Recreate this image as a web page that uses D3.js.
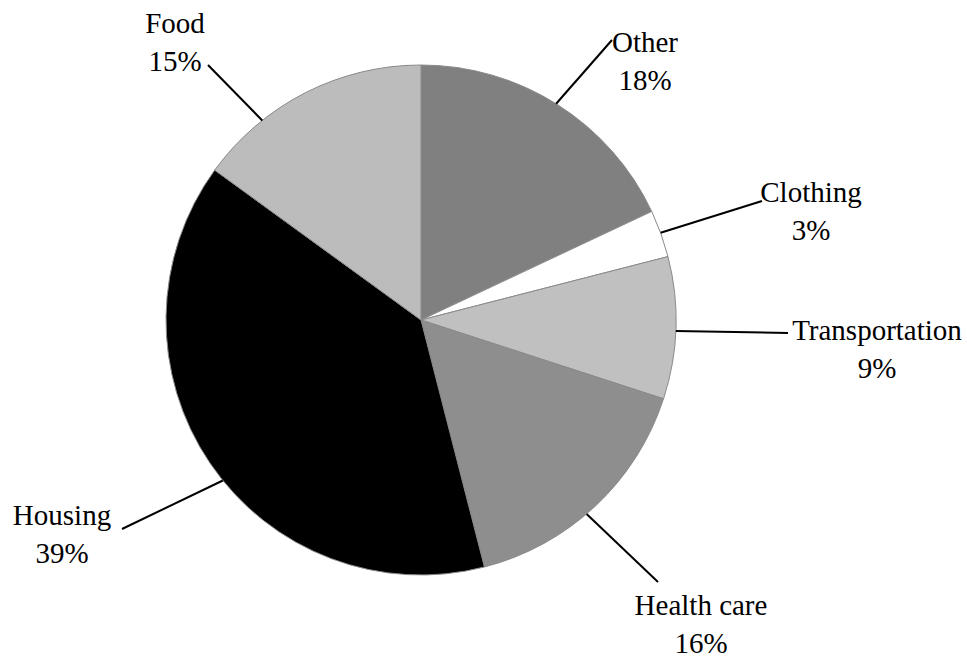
<!DOCTYPE html>
<html>
<head>
<meta charset="utf-8">
<script src="https://cdn.jsdelivr.net/npm/d3@7"></script>
<style>
  body { margin: 0; background: #fff; }
</style>
</head>
<body>
<svg></svg>
<script>
const size = {w: 967, h: 660};
const svg = d3.select('svg').attr('width', size.w).attr('height', size.h);

// data, clockwise from 12 o'clock
const categories = ['Other', 'Clothing', 'Transportation', 'Health care', 'Housing', 'Food'];
const shares = [18, 3, 9, 16, 39, 15];
const shareLabels = ['18%', '3%', '9%', '16%', '39%', '15%'];

// grey fills per slice
const fills = ['#808080', '#ffffff', '#c0c0c0', '#8e8e8e', '#000000', '#bcbcbc'];

// leader layout: angle on the rim (deg), line end, label anchor (centre x, first baseline)
const leaders = [
    {angle: 32, end: [612, 40], label: [645, 52]},
    {angle: 70, end: [762, 201], label: [811, 202]},
    {angle: 92.5, end: [788, 333], label: [877, 340]},
    {angle: 139.5, end: [658, 582], label: [701, 615]},
    {angle: 231, end: [122, 529], label: [62, 525]},
    {angle: 321.5, end: [208, 65], label: [175, 33]}
];

const cx = 421, cy = 320, radius = 255;
const lineGap = 38;

const pieData = categories.map((c, i) => ({cat: c, value: shares[i], lab: shareLabels[i], i: i}));

const pie = d3.pie().sort(null).value(d => d.value);
const arc = d3.arc().innerRadius(0).outerRadius(radius);

const pieG = svg.append('g').attr('transform', `translate(${cx}, ${cy})`);

pieG.selectAll('path')
    .data(pie(pieData))
    .join('path')
    .attr('d', arc)
    .attr('fill', d => fills[d.data.i])
    .attr('stroke', '#8a8a8a')
    .attr('stroke-width', 1);

// leader lines + two-line labels
const labelG = svg.append('g')
    .attr('font-family', "'Liberation Serif', 'DejaVu Serif', 'Times New Roman', serif")
    .attr('font-size', 29);

pieData.forEach((d, i) => {
    const L = leaders[i];
    const a = L.angle * Math.PI / 180;
    const x0 = cx + radius * Math.sin(a);
    const y0 = cy - radius * Math.cos(a);
    labelG.append('line')
        .attr('x1', x0).attr('y1', y0)
        .attr('x2', L.end[0]).attr('y2', L.end[1])
        .attr('stroke', '#000')
        .attr('stroke-width', 2);

    const t = labelG.append('text')
        .attr('text-anchor', 'middle')
        .attr('x', L.label[0])
        .attr('y', L.label[1])
        .attr('fill', '#000');
    t.append('tspan').attr('x', L.label[0]).text(d.cat);
    t.append('tspan').attr('x', L.label[0]).attr('dy', lineGap).text(d.lab);
});
</script>
</body>
</html>
